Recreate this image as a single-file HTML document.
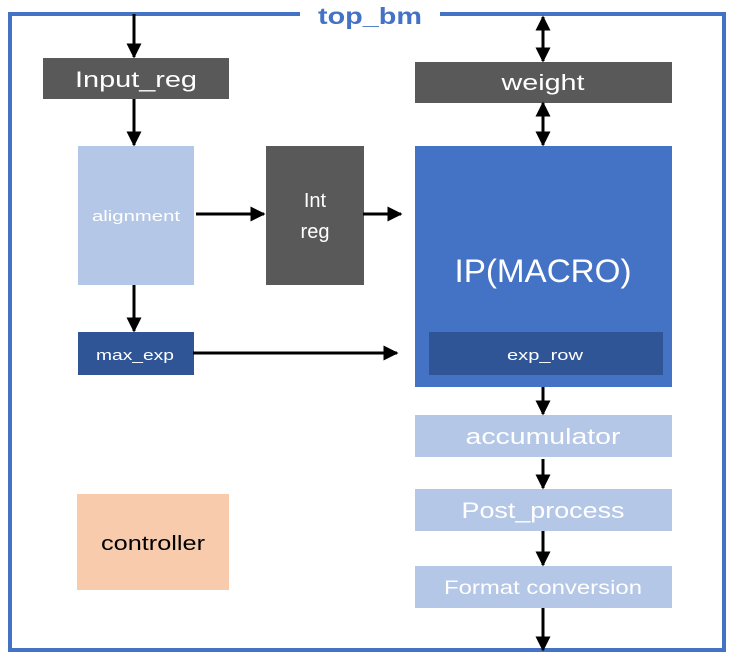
<!DOCTYPE html>
<html><head><meta charset="utf-8"><style>
html,body{margin:0;padding:0;background:#fff;}
svg{display:block;}
text{font-family:"Liberation Sans",sans-serif;}
</style></head><body>
<svg width="747" height="665" viewBox="0 0 747 665" xmlns="http://www.w3.org/2000/svg">
<defs>
<marker id="a" viewBox="0 0 10 10" refX="9" refY="5" markerWidth="5" markerHeight="5" orient="auto-start-reverse" markerUnits="strokeWidth">
<path d="M0,0 L10,5 L0,10 z" fill="#000"/></marker>
</defs>
<path d="M304,14 H724 V650 H10 V14 H304" fill="none" stroke="#4472C4" stroke-width="4"/>
<rect x="300" y="2" width="140" height="24" fill="#fff"/>
<text x="370" y="24" font-size="23" font-weight="bold" fill="#4472C4" text-anchor="middle" textLength="104" lengthAdjust="spacingAndGlyphs">top_bm</text>

<rect x="43" y="58" width="186" height="41" fill="#595959"/>
<text x="136" y="87" font-size="22" fill="#fff" text-anchor="middle" textLength="122" lengthAdjust="spacingAndGlyphs">Input_reg</text>

<rect x="415" y="62" width="257" height="41" fill="#595959"/>
<text x="543" y="90" font-size="22" fill="#fff" text-anchor="middle" textLength="83" lengthAdjust="spacingAndGlyphs">weight</text>

<rect x="78" y="146" width="116" height="139" fill="#B4C7E7"/>
<text x="136" y="221" font-size="15" fill="#fff" text-anchor="middle" textLength="88" lengthAdjust="spacingAndGlyphs">alignment</text>

<rect x="266" y="146" width="98" height="139" fill="#595959"/>
<text x="315" y="207" font-size="20" fill="#fff" text-anchor="middle">Int</text>
<text x="315" y="238" font-size="20" fill="#fff" text-anchor="middle">reg</text>

<rect x="415" y="146" width="257" height="241" fill="#4472C4"/>
<text x="543" y="282" font-size="32" fill="#fff" text-anchor="middle" textLength="177" lengthAdjust="spacingAndGlyphs">IP(MACRO)</text>
<rect x="429" y="332" width="234" height="43" fill="#2F5597"/>
<text x="545" y="360" font-size="15" fill="#fff" text-anchor="middle" textLength="76" lengthAdjust="spacingAndGlyphs">exp_row</text>

<rect x="78" y="332" width="116" height="43" fill="#2F5597"/>
<text x="135" y="360" font-size="15" fill="#fff" text-anchor="middle" textLength="78" lengthAdjust="spacingAndGlyphs">max_exp</text>

<rect x="415" y="415" width="257" height="42" fill="#B4C7E7"/>
<text x="543" y="444" font-size="22" fill="#fff" text-anchor="middle" textLength="155" lengthAdjust="spacingAndGlyphs">accumulator</text>
<rect x="415" y="489" width="257" height="42" fill="#B4C7E7"/>
<text x="543" y="518" font-size="22" fill="#fff" text-anchor="middle" textLength="163" lengthAdjust="spacingAndGlyphs">Post_process</text>
<rect x="415" y="566" width="257" height="42" fill="#B4C7E7"/>
<text x="543" y="594" font-size="19" fill="#fff" text-anchor="middle" textLength="198" lengthAdjust="spacingAndGlyphs">Format conversion</text>

<rect x="77" y="494" width="152" height="96" fill="#F8CBAD"/>
<text x="153" y="550" font-size="20" fill="#000" text-anchor="middle" textLength="104" lengthAdjust="spacingAndGlyphs">controller</text>

<g stroke="#000" stroke-width="3" fill="none">
<line x1="134" y1="14" x2="134" y2="57" marker-end="url(#a)"/>
<line x1="134" y1="99" x2="134" y2="145" marker-end="url(#a)"/>
<line x1="134" y1="285" x2="134" y2="331" marker-end="url(#a)"/>
<line x1="196" y1="214" x2="264" y2="214" marker-end="url(#a)"/>
<line x1="363" y1="214" x2="401" y2="214" marker-end="url(#a)"/>
<line x1="193" y1="353" x2="397" y2="353" marker-end="url(#a)"/>
<line x1="543" y1="17" x2="543" y2="61" marker-start="url(#a)" marker-end="url(#a)"/>
<line x1="543" y1="103" x2="543" y2="145" marker-start="url(#a)" marker-end="url(#a)"/>
<line x1="543" y1="387" x2="543" y2="414" marker-end="url(#a)"/>
<line x1="543" y1="459" x2="543" y2="488" marker-end="url(#a)"/>
<line x1="543" y1="531" x2="543" y2="565" marker-end="url(#a)"/>
<line x1="543" y1="608" x2="543" y2="650" marker-end="url(#a)"/>
</g>
</svg>
</body></html>
